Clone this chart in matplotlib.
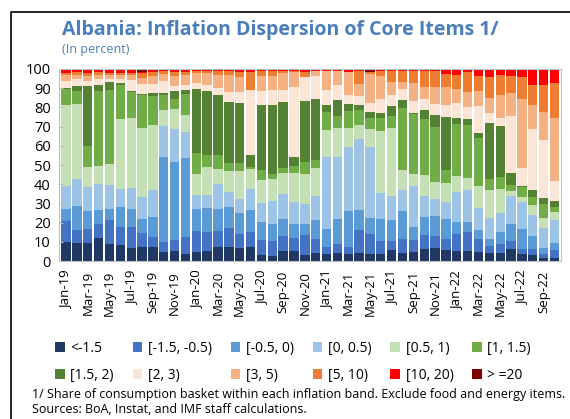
import numpy as np
import matplotlib
matplotlib.use("Agg")
import matplotlib.pyplot as plt
from matplotlib.lines import Line2D
from matplotlib.patches import Patch

# ── données (part du panier, en %) ─────────────────────────────────────────
months = ["Jan-19", "Feb-19", "Mar-19", "Apr-19", "May-19", "Jun-19", "Jul-19", "Aug-19",
          "Sep-19", "Oct-19", "Nov-19", "Dec-19", "Jan-20", "Feb-20", "Mar-20", "Apr-20",
          "May-20", "Jun-20", "Jul-20", "Aug-20", "Sep-20", "Oct-20", "Nov-20", "Dec-20",
          "Jan-21", "Feb-21", "Mar-21", "Apr-21", "May-21", "Jun-21", "Jul-21", "Aug-21",
          "Sep-21", "Oct-21", "Nov-21", "Dec-21", "Jan-22", "Feb-22", "Mar-22", "Apr-22",
          "May-22", "Jun-22", "Jul-22", "Aug-22", "Sep-22", "Oct-22"]

band_lt_m15 = [9.9, 9.4, 9.4, 12.2, 9.0, 8.5, 6.9, 7.2, 7.5, 4.8, 5.0, 3.8, 4.5, 5.0, 7.3, 7.5,
               6.9, 7.5, 3.2, 2.4, 5.2, 5.0, 3.3, 4.0, 3.4, 4.3, 3.4, 4.3, 3.9, 3.9, 5.5, 4.3,
               4.7, 6.1, 6.8, 5.6, 5.2, 5.2, 4.8, 4.0, 4.2, 6.5, 3.9, 3.0, 1.7, 1.6]
band_m15_m05 = [11.1, 6.6, 7.4, 7.2, 12.5, 9.4, 10.6, 7.6, 5.2, 5.3, 6.0, 8.7, 11.0, 10.1, 8.3, 9.5,
                7.2, 7.4, 7.8, 8.0, 7.6, 6.9, 10.0, 7.5, 4.0, 4.8, 4.1, 11.9, 10.4, 6.3, 5.0, 7.3,
                6.4, 7.6, 6.2, 6.0, 9.0, 9.9, 6.8, 3.8, 4.8, 4.0, 2.6, 3.4, 2.2, 4.1]
band_m05_0 = [6.3, 12.6, 9.4, 7.3, 5.8, 10.1, 9.4, 7.2, 10.4, 44.2, 40.8, 41.3, 11.8, 12.7, 11.7, 11.3,
              11.1, 11.7, 9.4, 9.0, 8.9, 7.5, 6.2, 10.0, 9.5, 12.9, 18.5, 10.5, 8.3, 11.9, 10.8, 14.4,
              6.6, 9.2, 10.4, 10.4, 6.1, 5.2, 4.7, 3.7, 6.2, 8.7, 10.4, 6.6, 2.8, 3.7]
band_0_05 = [11.7, 13.9, 12.2, 13.4, 12.5, 9.7, 11.3, 11.5, 14.0, 16.0, 17.0, 13.4, 6.9, 6.7, 13.0, 7.8,
             6.9, 10.7, 9.8, 11.9, 13.4, 11.3, 10.0, 12.1, 37.3, 32.2, 33.6, 36.9, 36.6, 13.4, 12.5, 10.8,
             21.2, 10.8, 9.1, 8.7, 15.6, 16.5, 11.5, 11.1, 10.0, 14.4, 13.9, 11.1, 10.4, 12.1]
band_05_1 = [42.4, 39.1, 10.4, 9.2, 10.7, 36.4, 36.3, 35.7, 33.5, 8.1, 10.3, 9.0, 11.3, 14.3, 7.8, 10.8,
             14.8, 10.4, 11.9, 11.6, 10.9, 15.3, 16.0, 15.0, 14.1, 15.0, 9.6, 7.1, 9.5, 32.0, 35.7, 10.4,
             6.6, 11.3, 8.6, 10.1, 8.4, 6.4, 11.4, 14.4, 12.1, 2.6, 2.4, 5.2, 5.2, 4.0]
band_1_15 = [8.4, 6.8, 11.1, 39.2, 38.4, 17.4, 13.5, 17.0, 15.4, 7.8, 5.2, 11.0, 10.9, 6.2, 6.9, 4.0,
             4.0, 1.4, 5.2, 2.2, 2.4, 3.5, 6.1, 3.9, 9.4, 6.3, 8.9, 7.8, 5.7, 6.8, 5.8, 32.5,
             31.2, 29.1, 28.7, 6.4, 27.2, 27.5, 24.8, 5.7, 6.4, 3.5, 5.4, 4.0, 7.3, 2.6]
band_15_2 = [0.5, 2.7, 31.1, 3.3, 4.3, 1.4, 0.5, 1.0, 1.3, 1.1, 4.5, 1.7, 33.0, 33.4, 31.6, 32.1,
             31.2, 6.0, 33.9, 36.0, 34.4, 4.7, 31.7, 31.8, 3.6, 8.5, 3.7, 2.6, 3.1, 2.9, 5.4, 4.0,
             0.6, 4.4, 6.4, 27.8, 3.0, 3.4, 2.8, 29.0, 26.5, 6.0, 0.7, 3.9, 3.3, 3.2]
band_2_3 = [3.5, 3.5, 2.6, 2.8, 1.8, 1.7, 5.9, 4.8, 5.0, 6.5, 2.2, 2.6, 3.5, 3.2, 3.5, 5.2,
            6.1, 33.9, 7.3, 7.8, 6.4, 36.4, 12.6, 11.9, 7.7, 7.6, 4.6, 4.9, 4.8, 7.0, 5.5, 5.7,
            6.0, 5.7, 5.7, 6.1, 7.8, 6.1, 13.9, 5.2, 4.4, 30.0, 8.9, 31.7, 30.2, 10.4]
band_3_5 = [2.9, 2.4, 2.8, 2.4, 1.7, 2.1, 2.6, 3.1, 4.2, 3.4, 5.2, 5.2, 5.0, 6.4, 6.6, 8.7,
            7.8, 0.0, 7.9, 7.5, 8.9, 7.8, 0.0, 2.6, 9.7, 7.1, 12.2, 6.1, 14.9, 12.0, 7.1, 3.8,
            9.6, 6.4, 8.7, 9.5, 7.5, 7.8, 7.8, 7.8, 11.8, 11.6, 36.2, 12.5, 14.4, 32.8]
band_5_10 = [1.3, 1.4, 1.7, 1.4, 1.4, 1.4, 1.1, 2.6, 1.7, 1.8, 2.3, 1.7, 1.1, 1.0, 2.1, 2.1,
             2.6, 9.5, 2.3, 2.4, 0.9, 0.6, 2.6, 0.0, 0.0, 0.0, 0.0, 6.7, 1.4, 2.6, 5.5, 5.8,
             6.1, 8.4, 8.4, 7.0, 7.2, 10.4, 7.7, 11.3, 10.4, 9.3, 11.5, 10.1, 14.2, 18.4]
band_10_20 = [2.0, 1.6, 1.9, 1.6, 1.9, 1.9, 1.9, 0.8, 1.8, 1.0, 1.5, 1.6, 1.0, 1.0, 1.2, 1.0,
              1.4, 1.5, 1.3, 1.2, 1.0, 1.0, 1.5, 1.2, 1.3, 1.3, 1.4, 1.2, 0.0, 1.2, 1.2, 1.0,
              1.0, 1.0, 1.0, 2.4, 3.0, 1.6, 3.8, 4.0, 3.2, 3.4, 4.1, 8.5, 8.3, 7.1]
band_ge_20 = [0, 0, 0, 0, 0, 0, 0, 1.5, 0, 0, 0, 0, 0, 0, 0, 0,
              0, 0, 0, 0, 0, 0, 0, 0, 0, 0, 0, 0, 1.4, 0, 0, 0,
              0, 0, 0, 0, 0, 0, 0, 0, 0, 0, 0, 0, 0, 0]

labels = ["<-1.5", "[-1.5, -0.5)", "[-0.5, 0)", "[0, 0.5)", "[0.5, 1)", "[1, 1.5)",
          "[1.5, 2)", "[2, 3)", "[3, 5)", "[5, 10)", "[10, 20)", "> =20"]
series = [band_lt_m15, band_m15_m05, band_m05_0, band_0_05, band_05_1, band_1_15,
          band_15_2, band_2_3, band_3_5, band_5_10, band_10_20, band_ge_20]
colors = ["#203864", "#4472c4", "#5b9bd5", "#9dc3e6", "#c5e0b4", "#70ad47",
          "#548235", "#fbe5d6", "#f4b183", "#ed7d31", "#ff0000", "#7f0000"]

FONT = "Open Sans"
TITLE_C = "#4a7ebb"

# ── figure ────────────────────────────────────────────────────────────────
fig = plt.figure(figsize=(5.70, 4.19), dpi=100, facecolor="white")
ax = fig.add_axes([59 / 570, 1 - 261 / 419, 502 / 570, 192 / 419])

x = np.arange(len(months))
bottom = np.zeros(len(months))
for vals, col, lab in zip(series, colors, labels):
    ax.bar(x, vals, bottom=bottom, width=0.86, color=col, label=lab, linewidth=0)
    bottom += np.array(vals)

ax.set_xlim(-0.65, len(months) - 0.4)
ax.set_ylim(0, 100)
ax.set_yticks(range(0, 101, 10))
ax.set_xticks(x[::2])
ax.set_xticklabels(months[::2], rotation=90, fontsize=9.5, family=FONT)
ax.tick_params(axis="x", length=0, pad=7)
ax.tick_params(axis="y", direction="in", length=3, color="#bfbfbf", labelsize=10.5, pad=6)
for t in ax.get_yticklabels():
    t.set_family(FONT)
for s in ax.spines.values():
    s.set_color("#bfbfbf")
    s.set_linewidth(0.8)

# légende : 2 lignes × 6 colonnes (ordre ligne par ligne)
handles = [Patch(facecolor=c, label=l) for c, l in zip(colors, labels)]
order = [i + 6 * r for i in range(6) for r in range(2)]
fig.legend([handles[i] for i in order], [labels[i] for i in order],
           ncol=6, loc="upper left", bbox_to_anchor=(55 / 570, 1 - 341 / 419),
           frameon=False, prop={"family": FONT, "size": 10},
           handlelength=0.7, handleheight=0.7, handletextpad=0.4,
           columnspacing=1.35, labelspacing=0.85, borderaxespad=0, borderpad=0)

fig.text(62 / 570, 1 - 30 / 419, "Albania: Inflation Dispersion of Core Items 1/",
         fontsize=14, fontweight="bold", color=TITLE_C, family=FONT, va="center")
fig.text(62 / 570, 1 - 50 / 419, "(In percent)", fontsize=9, color=TITLE_C,
         family=FONT, va="center")
fig.text(32 / 570, 1 - 394 / 419,
         "1/ Share of consumption basket within each inflation band. Exclude food and energy items.",
         fontsize=9, family=FONT, va="center")
fig.text(32 / 570, 1 - 409 / 419, "Sources: BoA, Instat, and IMF staff calculations.",
         fontsize=9, family=FONT, va="center")

# cadre noir (gauche + haut)
fig.add_artist(Line2D([11 / 570, 11 / 570, 1.0], [0, 1 - 12 / 419, 1 - 12 / 419],
                      color="black", linewidth=1.2, transform=fig.transFigure))

fig.savefig("out.png", dpi=100)
